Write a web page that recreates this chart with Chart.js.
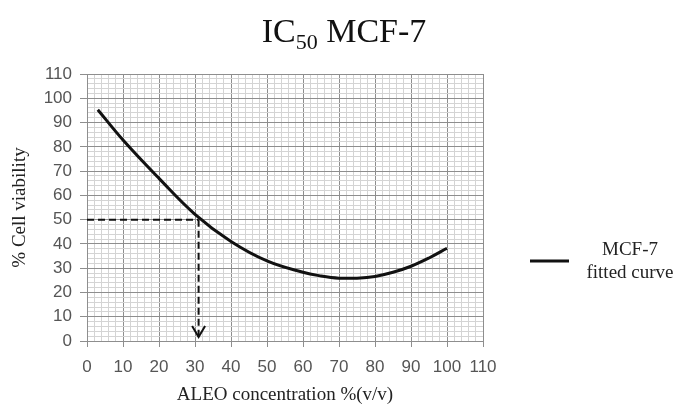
<!DOCTYPE html>
<html>
<head>
<meta charset="utf-8">
<script src="https://cdn.jsdelivr.net/npm/chart.js@4/dist/chart.umd.min.js"></script>
<style>html,body{margin:0;padding:0;background:#fff;}canvas{display:block;}</style>
</head>
<body>
<canvas id="c" width="680" height="405"></canvas>
<script>
const conc = [3, 10, 20, 30, 40, 50, 60, 65, 70, 75, 80, 85, 90, 95, 100];
const viability = [95.3, 82.8, 67, 52.2, 41, 33, 28.3, 26.8, 25.9, 25.9, 26.6, 28.3, 30.8, 34.2, 38.2];
const ic50 = 31;
const ic50Level = 50;
const tickValuesX = [0,10,20,30,40,50,60,70,80,90,100,110];
const tickValuesY = [0,10,20,30,40,50,60,70,80,90,100,110];
const titleMain = "IC";
const titleSub = "50";
const titleRest = " MCF-7";
const legendLines = ["MCF-7", "fitted curve"];

const MAJOR = '#8e8e8e', MINOR = '#d4d4d4';
const isMajor = v => Math.abs(v % 10) < 1e-6;
const gridCfg = {
  color: ctx => (ctx.tick && isMajor(ctx.tick.value)) ? MAJOR : MINOR,
  tickColor: ctx => (ctx.tick && isMajor(ctx.tick.value)) ? MAJOR : 'rgba(0,0,0,0)',
  lineWidth: 1
};

const overlay = {
  id: 'overlay',
  afterDatasetsDraw(chart) {
    const c = chart.ctx, xs = chart.scales.x, ys = chart.scales.y;
    const px = xs.getPixelForValue(ic50), py = ys.getPixelForValue(0) - 4;
    c.save();
    c.strokeStyle = '#111'; c.lineWidth = 2;
    c.beginPath();
    c.moveTo(px - 6.5, py - 11); c.lineTo(px, py); c.lineTo(px + 6.5, py - 11);
    c.stroke();
    c.restore();
  },
  afterDraw(chart) {
    const c = chart.ctx;
    c.save();
    c.fillStyle = '#111';
    c.textBaseline = 'alphabetic';
    c.font = '34px "Liberation Serif"';
    const w1 = c.measureText(titleMain).width;
    const w3 = c.measureText(titleRest).width;
    c.font = '22px "Liberation Serif"';
    const w2 = c.measureText(titleSub).width;
    let x = 344 - (w1 + w2 + w3) / 2;
    c.font = '34px "Liberation Serif"';
    c.fillText(titleMain, x, 42);
    x += w1;
    c.font = '22px "Liberation Serif"';
    c.fillText(titleSub, x, 49);
    x += w2;
    c.font = '34px "Liberation Serif"';
    c.fillText(titleRest, x, 42);
    c.strokeStyle = '#111'; c.lineWidth = 3;
    c.beginPath(); c.moveTo(530, 261); c.lineTo(569, 261); c.stroke();
    c.fillStyle = '#222';
    c.font = '19px "Liberation Serif"';
    c.textAlign = 'center'; c.textBaseline = 'middle';
    c.fillText(legendLines[0], 630, 250);
    c.fillText(legendLines[1], 630, 273);
    c.restore();
  }
};

new Chart(document.getElementById('c'), {
  type: 'line',
  data: {
    datasets: [
      {
        label: 'MCF-7 fitted curve',
        data: conc.map((x, i) => ({x, y: viability[i]})),
        borderColor: '#111', borderWidth: 3, pointRadius: 0,
        tension: 0.4, fill: false
      },
      {
        label: 'h',
        data: [{x: 0, y: ic50Level}, {x: ic50, y: ic50Level}],
        borderColor: '#111', borderWidth: 2, borderDash: [7, 4], pointRadius: 0, fill: false
      },
      {
        label: 'v',
        data: [{x: ic50, y: ic50Level}, {x: ic50, y: 1}],
        borderColor: '#111', borderWidth: 2, borderDash: [7, 4], pointRadius: 0, fill: false
      }
    ]
  },
  options: {
    responsive: false,
    animation: false,
    layout: {padding: {top: 74, right: 197, bottom: 0, left: 0}},
    plugins: {legend: {display: false}, title: {display: false}, tooltip: {enabled: false}},
    scales: {
      x: {
        type: 'linear', min: 0, max: 110,
        afterFit: s => { s.height = 64; },
        ticks: {
          stepSize: 2, autoSkip: false, maxRotation: 0, padding: 10,
          color: '#555', font: {family: '"Liberation Sans"', size: 17},
          callback: v => tickValuesX.includes(v) ? String(v) : ''
        },
        grid: Object.assign({tickLength: 6}, gridCfg),
        border: {display: true, color: MAJOR},
        title: {
          display: true, text: 'ALEO concentration %(v/v)', color: '#222',
          font: {family: '"Liberation Serif"', size: 19, lineHeight: 1},
          padding: {top: 0, bottom: 0}
        }
      },
      y: {
        type: 'linear', min: 0, max: 110,
        afterFit: s => { s.width = 87; },
        ticks: {
          stepSize: 2, autoSkip: false, padding: 8,
          color: '#555', font: {family: '"Liberation Sans"', size: 17},
          callback: v => tickValuesY.includes(v) ? String(v) : ''
        },
        grid: Object.assign({tickLength: 7}, gridCfg),
        border: {display: true, color: MAJOR},
        title: {
          display: true, text: '% Cell viability', color: '#222',
          font: {family: '"Liberation Serif"', size: 19, lineHeight: 1.2},
          padding: {top: 9, bottom: 0}
        }
      }
    }
  },
  plugins: [overlay]
});
</script>
</body>
</html>
